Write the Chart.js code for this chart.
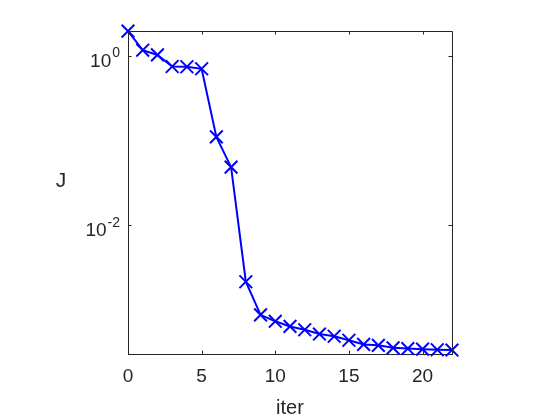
<!DOCTYPE html>
<html>
<head>
<meta charset="utf-8">
<script src="https://cdn.jsdelivr.net/npm/chart.js@4.4.0/dist/chart.umd.min.js"></script>
<style>
  html, body { margin: 0; padding: 0; background: #fff; }
  canvas { display: block; }
</style>
</head>
<body>
<canvas id="myChart1" width="560" height="420"></canvas>
<script>
const iterations = [0, 1, 2, 3, 4, 5, 6, 7, 8, 9, 10, 11, 12, 13, 14, 15, 16, 17, 18, 19, 20, 21, 22];
const costJ = [1.95, 1.16, 1.02, 0.745, 0.74, 0.70, 0.110, 0.0482, 0.00214, 8.7e-4, 7.3e-4, 6.35e-4,
  5.8e-4, 5.16e-4, 4.86e-4, 4.36e-4, 3.89e-4, 3.8e-4, 3.55e-4, 3.48e-4, 3.42e-4, 3.37e-4, 3.34e-4];
const xTicks = [0, 5, 10, 15, 20];
const yTicks = [1, 0.01];
const yTickExps = ["0", "-2"];
const xMin = 0, xMax = 22;
const yMin = 3.34e-4, yMax = 1.955;

const FONT = "'Liberation Sans', Arial, Helvetica, sans-serif";
const INK = "#262626";

// box, inward ticks, superscript tick labels and axis titles
const matlabAxes = {
  id: "matlabAxes",
  afterDraw(chart) {
    const ctx = chart.ctx;
    const a = chart.chartArea;
    const xs = chart.scales.x;
    const ys = chart.scales.y;
    ctx.save();
    ctx.strokeStyle = INK;
    ctx.lineWidth = 1;
    ctx.beginPath();
    ctx.moveTo(a.left, a.top + 0.5);
    ctx.lineTo(a.right + 0.5, a.top + 0.5);
    ctx.lineTo(a.right + 0.5, a.bottom);
    const tl = 3.5;
    xTicks.forEach(function (v) {
      const px = Math.round(xs.getPixelForValue(v)) + 0.5;
      ctx.moveTo(px, a.bottom);
      ctx.lineTo(px, a.bottom - tl);
      ctx.moveTo(px, a.top);
      ctx.lineTo(px, a.top + tl);
    });
    yTicks.forEach(function (v) {
      const py = Math.round(ys.getPixelForValue(v)) + 0.5;
      ctx.moveTo(a.left, py);
      ctx.lineTo(a.left + tl, py);
      ctx.moveTo(a.right, py);
      ctx.lineTo(a.right - tl, py);
    });
    ctx.stroke();

    ctx.fillStyle = INK;
    ctx.textAlign = "right";
    ctx.textBaseline = "alphabetic";
    yTicks.forEach(function (v, i) {
      const py = ys.getPixelForValue(v);
      const right = a.left - 8;
      ctx.font = "14px " + FONT;
      const ew = ctx.measureText(yTickExps[i]).width;
      ctx.fillText(yTickExps[i], right, py + 1.5);
      ctx.font = "19px " + FONT;
      ctx.fillText("10", right - ew - 1, py + 11);
    });

    ctx.textAlign = "center";
    ctx.font = "21px " + FONT;
    ctx.fillText("J", 61, 187);
    ctx.font = "20px " + FONT;
    ctx.fillText("iter", (a.left + a.right) / 2, 414);
    ctx.restore();
  },
};

const myChart1 = document.getElementById("myChart1").getContext("2d");
const costChart = new Chart(myChart1, {
  type: "line",
  data: {
    datasets: [
      {
        data: iterations.map(function (it, i) {
          return { x: it, y: costJ[i] };
        }),
        borderColor: "#0000ff",
        borderWidth: 2,
        pointStyle: "crossRot",
        pointRadius: 9,
        pointBorderWidth: 2,
        pointBorderColor: "#0000ff",
        pointBackgroundColor: "#0000ff",
        tension: 0,
        clip: false,
      },
    ],
  },
  options: {
    responsive: false,
    animation: false,
    layout: { padding: { top: 31, right: 108, left: 0, bottom: 0 } },
    plugins: { legend: { display: false }, tooltip: { enabled: false } },
    scales: {
      x: {
        type: "linear",
        min: xMin,
        max: xMax,
        afterBuildTicks: function (s) {
          s.ticks = xTicks.map(function (v) { return { value: v }; });
        },
        afterFit: function (s) { s.height = 66; },
        grid: { display: false, drawTicks: false },
        border: { display: true, color: INK, width: 1 },
        ticks: {
          font: { family: FONT, size: 19 },
          color: INK,
          padding: 11,
          maxRotation: 0,
          autoSkip: false,
        },
      },
      y: {
        type: "logarithmic",
        min: yMin,
        max: yMax,
        afterBuildTicks: function (s) {
          s.ticks = yTicks.map(function (v) { return { value: v }; });
        },
        afterFit: function (s) { s.width = 128; },
        grid: { display: false, drawTicks: false },
        border: { display: true, color: INK, width: 1 },
        ticks: { display: false },
      },
    },
  },
  plugins: [matlabAxes],
});
</script>
</body>
</html>
